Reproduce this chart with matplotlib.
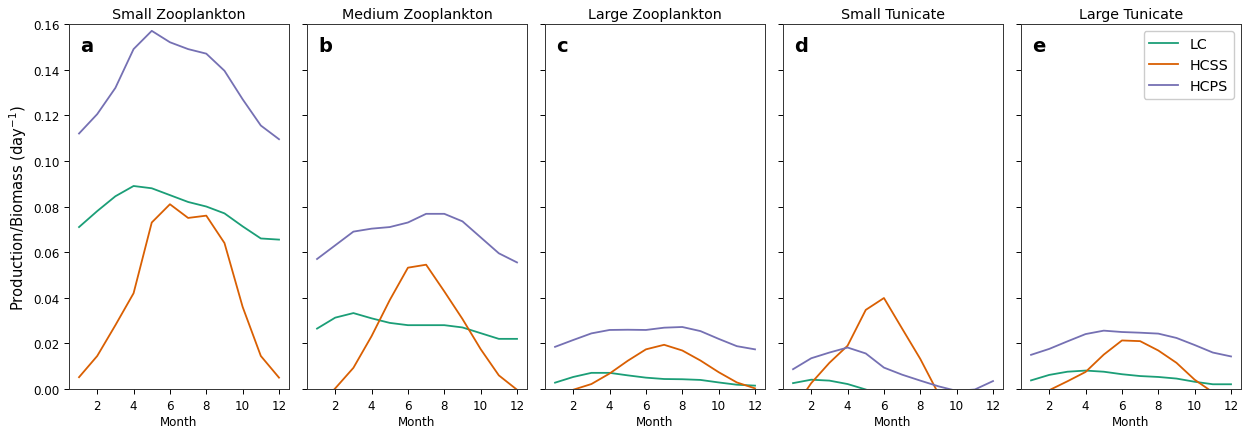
import matplotlib
matplotlib.use("Agg")
import matplotlib.pyplot as plt
import numpy as np

months = list(range(1, 13))
titles = ["Small Zooplankton", "Medium Zooplankton", "Large Zooplankton",
          "Small Tunicate", "Large Tunicate"]
letters = ["a", "b", "c", "d", "e"]
scenarios = ["LC", "HCSS", "HCPS"]
colors = ["#1b9e77", "#d95f02", "#7570b3"]

# Small Zooplankton
sz_lc = [0.071, 0.078, 0.0845, 0.089, 0.088, 0.085, 0.082, 0.080, 0.077, 0.0713, 0.066, 0.0655]
sz_hcss = [0.0052, 0.0145, 0.028, 0.042, 0.073, 0.081, 0.075, 0.076, 0.064, 0.036, 0.0145, 0.005]
sz_hcps = [0.112, 0.1205, 0.132, 0.149, 0.157, 0.152, 0.149, 0.147, 0.1395, 0.127, 0.1155, 0.1095]
# Medium Zooplankton
mz_lc = [0.0265, 0.0313, 0.0333, 0.031, 0.029, 0.028, 0.028, 0.028, 0.027, 0.0245, 0.022, 0.022]
mz_hcss = [-0.008, 0.0003, 0.0093, 0.0232, 0.039, 0.0532, 0.0545, 0.0428, 0.0307, 0.0175, 0.006, -0.0003]
mz_hcps = [0.057, 0.063, 0.069, 0.0703, 0.071, 0.073, 0.0768, 0.0768, 0.0735, 0.0665, 0.0595, 0.0555]
# Large Zooplankton
lz_lc = [0.0028, 0.0053, 0.0071, 0.0071, 0.006, 0.005, 0.0044, 0.0043, 0.004, 0.0029, 0.0019, 0.0015]
lz_hcss = [-0.004, -0.0003, 0.0022, 0.0068, 0.0124, 0.0174, 0.0194, 0.0169, 0.0125, 0.0074, 0.0029, 0.0003]
lz_hcps = [0.0185, 0.0215, 0.0244, 0.0259, 0.026, 0.0259, 0.0269, 0.0272, 0.0254, 0.022, 0.0188, 0.0174]
# Small Tunicate
st_lc = [0.0026, 0.0041, 0.0037, 0.0022, -0.0002, -0.003, -0.004, -0.005, -0.005, -0.005, -0.005, -0.005]
st_hcss = [-0.009, 0.0026, 0.0115, 0.019, 0.0347, 0.0399, 0.0265, 0.0132, -0.0021, -0.01, -0.01, -0.01]
st_hcps = [0.0087, 0.0135, 0.016, 0.0182, 0.0156, 0.0094, 0.0063, 0.0037, 0.0012, -0.0008, -0.0002, 0.0035]
# Large Tunicate
lt_lc = [0.0038, 0.0062, 0.0076, 0.0081, 0.0076, 0.0065, 0.0057, 0.0053, 0.0046, 0.0032, 0.0021, 0.0021]
lt_hcss = [-0.004, -0.0005, 0.0034, 0.0075, 0.0151, 0.0213, 0.021, 0.0169, 0.0115, 0.0041, -0.0014, -0.004]
lt_hcps = [0.015, 0.0176, 0.0209, 0.0241, 0.0256, 0.025, 0.0247, 0.0243, 0.0224, 0.0193, 0.016, 0.0143]

groups = [
    [sz_lc, sz_hcss, sz_hcps],
    [mz_lc, mz_hcss, mz_hcps],
    [lz_lc, lz_hcss, lz_hcps],
    [st_lc, st_hcss, st_hcps],
    [lt_lc, lt_hcss, lt_hcps],
]

fig, axes = plt.subplots(1, 5, figsize=(12.44, 4.31), dpi=100, sharey=True)
fig.subplots_adjust(left=0.0555, right=0.9976, top=0.942, bottom=0.095, wspace=0.082)

for i, ax in enumerate(axes):
    for series, name, c in zip(groups[i], scenarios, colors):
        ax.plot(months, series, color=c, lw=1.3, label=name)
    ax.set_ylim(0, 0.16)
    ax.set_xticks([2, 4, 6, 8, 10, 12])
    ax.set_yticks(np.arange(0, 0.161, 0.02))
    ax.tick_params(labelsize=8.6, width=0.7, length=3.5)
    ax.set_title(titles[i], fontsize=10.3, pad=4)
    ax.set_xlabel("Month", fontsize=8.6, labelpad=2)
    ax.text(0.05, 0.927, letters[i], transform=ax.transAxes, fontsize=14,
            fontweight="bold", va="baseline", ha="left")
    for s in ax.spines.values():
        s.set_linewidth(0.7)
        s.set_color("#333333")

axes[0].yaxis.set_major_formatter(matplotlib.ticker.FormatStrFormatter("%.2f"))
axes[0].set_ylabel("Production/Biomass (day$^{-1}$)", fontsize=10.6, labelpad=3)
axes[4].legend(loc="upper right", fontsize=10.3, handlelength=2, framealpha=1)

fig.savefig("out.png", dpi=100)
